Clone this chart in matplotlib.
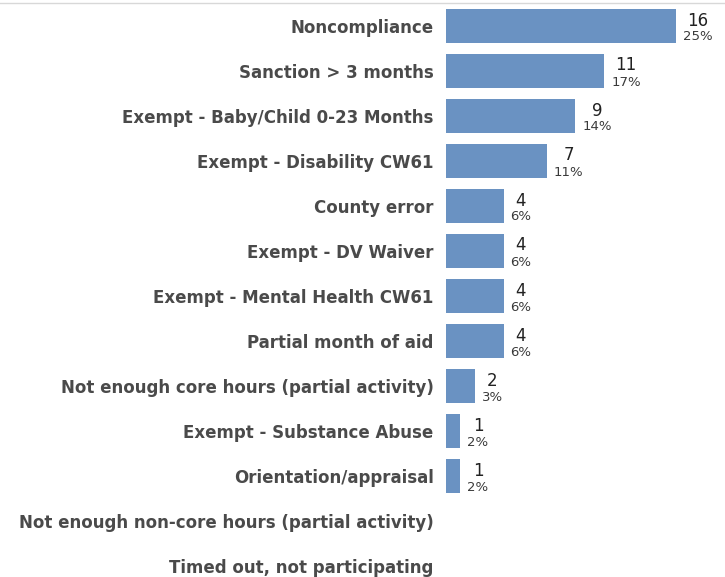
import matplotlib
matplotlib.use("Agg")
import matplotlib.pyplot as plt
from matplotlib.lines import Line2D

categories = [
    "Noncompliance",
    "Sanction > 3 months",
    "Exempt - Baby/Child 0-23 Months",
    "Exempt - Disability CW61",
    "County error",
    "Exempt - DV Waiver",
    "Exempt - Mental Health CW61",
    "Partial month of aid",
    "Not enough core hours (partial activity)",
    "Exempt - Substance Abuse",
    "Orientation/appraisal",
    "Not enough non-core hours (partial activity)",
    "Timed out, not participating",
]
counts = [16, 11, 9, 7, 4, 4, 4, 4, 2, 1, 1, 0, 0]
percents = ["25%", "17%", "14%", "11%", "6%", "6%", "6%", "6%", "3%", "2%", "2%", None, None]

W, H = 725, 577
fig = plt.figure(figsize=(W / 100, H / 100), dpi=100)
fig.patch.set_facecolor("white")

left_px, right_px = 446, 676
ax = fig.add_axes([left_px / W, 0, (right_px - left_px) / W, 1])
ax.set_xlim(0, 16)
ax.set_ylim(551 / 45, -26 / 45)

bar_h = 34 / 45
ypos = list(range(len(categories)))
ax.barh(ypos, counts, height=bar_h, color="#6a92c2", edgecolor="none")

for spine in ax.spines.values():
    spine.set_visible(False)
ax.set_xticks([])
ax.set_yticks(ypos)
ax.set_yticklabels(categories, fontsize=12, fontweight="bold", color="#4a4a4a",
                   family=["DejaVu Sans"])
ax.tick_params(axis="y", length=0, pad=9)

for y, c, p in zip(ypos, counts, percents):
    if not c:
        continue
    pt = ax.annotate(p, xy=(c, y), xytext=(7, -11), textcoords="offset pixels",
                     ha="left", va="center", fontsize=9.5, color="#3a3a3a",
                     family=["DejaVu Sans"], annotation_clip=False)
    ax.annotate(str(c), xy=(0.5, 1.0), xycoords=pt, xytext=(0, 1), textcoords="offset pixels",
                ha="center", va="bottom", fontsize=12, color="#222222",
                family=["DejaVu Sans"], annotation_clip=False)

fig.add_artist(Line2D([0, 1], [1 - 3 / H, 1 - 3 / H], transform=fig.transFigure,
                      color="#d8d8d8", linewidth=1))

fig.savefig("out.png", dpi=100)
